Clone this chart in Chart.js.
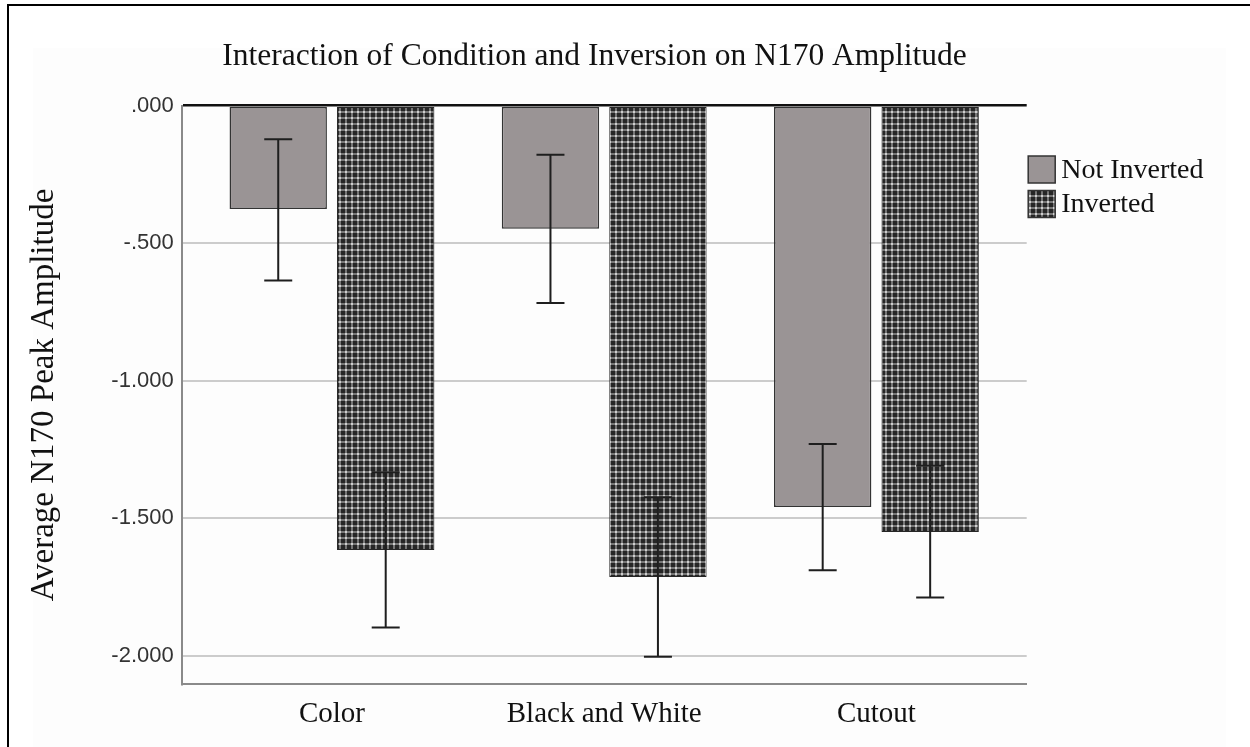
<!DOCTYPE html>
<html>
<head>
<meta charset="utf-8">
<title>N170 Amplitude</title>
<script src="https://cdn.jsdelivr.net/npm/chart.js@4.4.1/dist/chart.umd.min.js"></script>
<style>
  html, body { margin: 0; padding: 0; background: #ffffff; }
  #wrap { position: relative; width: 1250px; height: 747px; overflow: hidden; background: #ffffff; }
  #panel { position: absolute; left: 33px; top: 48px; width: 1193px; height: 720px; background: #fdfdfd; }
  #frame { position: absolute; left: 7px; top: 4px; width: 1260px; height: 760px;
           border-top: 2px solid #000; border-left: 2px solid #000; pointer-events: none; }
  canvas { position: absolute; left: 0; top: 0; }
</style>
</head>
<body>
<div id="wrap">
  <div id="panel"></div>
  <canvas id="chart" width="1250" height="747"></canvas>
  <div id="frame"></div>
</div>
<script>
// Condition categories and the two inversion series (mean N170 peak amplitude)
const categories = ['Color', 'Black and White', 'Cutout'];
const seriesNames = ['Not Inverted', 'Inverted'];
const notInverted = [-0.376, -0.447, -1.459];
const inverted = [-1.616, -1.714, -1.550];

// Error bar ends (upper / lower) for each series
const notInvertedErrHigh = [-0.122, -0.178, -1.230];
const notInvertedErrLow = [-0.636, -0.717, -1.689];
const invertedErrHigh = [-1.333, -1.424, -1.309];
const invertedErrLow = [-1.897, -2.004, -1.788];

// Value axis ticks
const yTickValues = [0, -0.5, -1, -1.5, -2];

// Checkered fill for the "Inverted" bars
function makeCheckPattern() {
  const c = document.createElement('canvas');
  c.width = 6; c.height = 6;
  const g = c.getContext('2d');
  g.fillStyle = '#262626';
  g.fillRect(0, 0, 6, 6);
  g.fillStyle = '#777777';
  g.fillRect(3, 0, 2, 6);
  g.fillRect(0, 3, 6, 2);
  g.fillStyle = '#cfcfcf';
  g.fillRect(3, 3, 2, 2);
  return g.createPattern(c, 'repeat');
}
const checkFill = makeCheckPattern();

const errorBars = [
  { high: notInvertedErrHigh, low: notInvertedErrLow },
  { high: invertedErrHigh, low: invertedErrLow }
];

// Draws the error bars from each bar's position and the y scale
const errorBarPlugin = {
  id: 'errorBars',
  afterDatasetsDraw(chart) {
    const ctx = chart.ctx;
    const y = chart.scales.y;
    ctx.save();
    ctx.strokeStyle = '#1e1e1e';
    ctx.lineWidth = 2;
    errorBars.forEach((eb, di) => {
      const meta = chart.getDatasetMeta(di);
      meta.data.forEach((bar, i) => {
        const x = bar.x;
        const yh = y.getPixelForValue(eb.high[i]);
        const yl = y.getPixelForValue(eb.low[i]);
        const cap = 14;
        ctx.beginPath();
        ctx.moveTo(x, yh); ctx.lineTo(x, yl);
        ctx.moveTo(x - cap, yh); ctx.lineTo(x + cap, yh);
        ctx.moveTo(x - cap, yl); ctx.lineTo(x + cap, yl);
        ctx.stroke();
      });
    });
    ctx.restore();
  }
};

// Legend with square swatches to the right of the plot
const sideLegendPlugin = {
  id: 'sideLegend',
  afterDraw(chart) {
    const ctx = chart.ctx;
    const left = chart.chartArea.right + 1.5;
    const top = 156;
    const box = 27;
    const step = 34.5;
    ctx.save();
    ctx.font = '28px "Liberation Serif", "Times New Roman", serif';
    ctx.textBaseline = 'middle';
    ctx.textAlign = 'left';
    chart.data.datasets.forEach((ds, i) => {
      const by = top + i * step;
      ctx.fillStyle = ds.backgroundColor;
      ctx.fillRect(left, by, box, box);
      ctx.strokeStyle = '#333333';
      ctx.lineWidth = 1.5;
      ctx.strokeRect(left, by, box, box);
      ctx.fillStyle = '#111111';
      ctx.fillText(ds.label, left + box + 6, by + box / 2 + 1);
    });
    ctx.restore();
  }
};

// Centre the title over the plot plus its side legend
const titleSpanPlugin = {
  id: 'titleSpan',
  afterLayout(chart) {
    if (chart.titleBlock) {
      chart.titleBlock.left = 0;
      chart.titleBlock.right = 1189;
    }
  }
};

function fmtTick(v) {
  const s = Math.abs(v).toFixed(3);
  const t = s.startsWith('0') ? s.slice(1) : s;
  return (v < 0 ? '-' : '') + t;
}

new Chart(document.getElementById('chart'), {
  type: 'bar',
  data: {
    datasets: [
      {
        label: seriesNames[0],
        data: notInverted.map((v, i) => ({ x: i, y: v })),
        backgroundColor: '#9a9495',
        borderColor: '#333333',
        borderWidth: 1.5,
        borderSkipped: false
      },
      {
        label: seriesNames[1],
        data: inverted.map((v, i) => ({ x: i, y: v })),
        backgroundColor: checkFill,
        borderColor: '#262626',
        borderWidth: 1,
        borderSkipped: false
      }
    ]
  },
  options: {
    responsive: false,
    animation: false,
    categoryPercentage: 0.7896,
    barPercentage: 0.906,
    layout: { padding: { left: 0, right: 223.3, top: 0, bottom: 0 } },
    plugins: {
      legend: { display: false },
      tooltip: { enabled: false },
      title: {
        display: true,
        text: 'Interaction of Condition and Inversion on N170 Amplitude',
        color: '#111111',
        font: { family: '"Liberation Serif", "Times New Roman", serif', size: 31.5, weight: 'normal', lineHeight: 1.2 },
        padding: { top: 38, bottom: 29.9 }
      }
    },
    scales: {
      x: {
        type: 'linear',
        offset: false,
        min: -0.552,
        max: 2.552,
        afterBuildTicks(scale) {
          scale.ticks = categories.map((c, i) => ({ value: i }));
        },
        afterFit(scale) { scale.height = 62.7; },
        grid: { display: true, offset: false, color: 'rgba(0,0,0,0)', drawTicks: false },
        border: { display: true, color: '#8a8a8a', width: 2 },
        ticks: {
          padding: 13,
          color: '#111111',
          font: { family: '"Liberation Serif", "Times New Roman", serif', size: 29 },
          callback: (v) => categories[v] ?? ''
        }
      },
      y: {
        min: -2.104,
        max: 0,
        afterBuildTicks(scale) {
          scale.ticks = yTickValues.map(v => ({ value: v }));
        },
        afterFit(scale) { scale.width = 181.7; },
        grid: {
          drawTicks: false,
          color: (c) => (c.tick && c.tick.value === 0 ? '#111111' : '#cccccc'),
          lineWidth: (c) => (c.tick && c.tick.value === 0 ? 2.5 : 2)
        },
        border: { display: true, color: '#8a8a8a', width: 2 },
        ticks: {
          padding: 8,
          color: '#333333',
          font: { family: '"Liberation Sans", Arial, sans-serif', size: 22 },
          callback: (v) => fmtTick(v)
        },
        title: {
          display: true,
          text: 'Average N170 Peak Amplitude',
          color: '#111111',
          font: { family: '"Liberation Serif", "Times New Roman", serif', size: 33, lineHeight: 1.2 },
          padding: { top: 25, bottom: 0 }
        }
      }
    }
  },
  plugins: [errorBarPlugin, sideLegendPlugin, titleSpanPlugin]
});
</script>
</body>
</html>
